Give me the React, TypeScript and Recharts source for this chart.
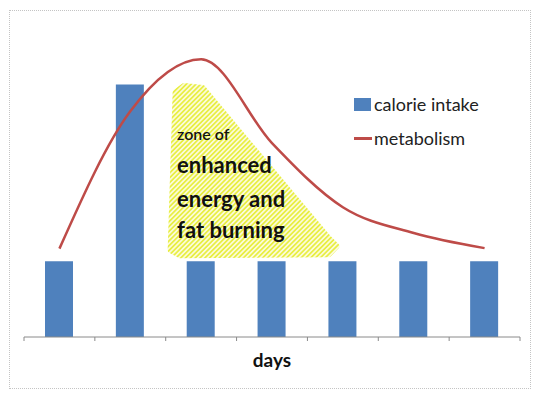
import { ComposedChart, Bar, Line, XAxis, YAxis, Legend, ReferenceArea } from 'recharts';

const days = ['Day 1', 'Day 2', 'Day 3', 'Day 4', 'Day 5', 'Day 6', 'Day 7'];
const calorieIntake = [1.5, 5, 1.5, 1.5, 1.5, 1.5, 1.5];
const metabolism = [1.75, 4.47, 5.5, 3.84, 2.57, 2.06, 1.76];
const yTicks = [0, 1, 2, 3, 4, 5, 6];
const xTicks = [0, 1, 2, 3, 4, 5, 6, 7];

// outline of the "zone" annotation, in [day index, value] units
const zoneOutline = [
    [2.14, 4.85], [2.26, 4.97], [2.52, 4.93], [4.3, 1.95], [4.41, 1.8],
    [4.3, 1.64], [2.2, 1.62], [2.07, 1.72],
];
const zoneLines = ['zone of', 'enhanced', 'energy and', 'fat burning'];
const zoneLineValues = [3.9, 3.25, 2.58, 1.96];

const data = days.map((d, i) => ({
    name: d,
    x: i + 0.5,
    intake: calorieIntake[i],
    metabolism: metabolism[i],
}));

const FONT = 'Lato, "Open Sans", sans-serif';

const ZoneShape = (props: any) => {
    const { x, y, width, height } = props;
    const px = (c: number) => x + (c / 7) * width;
    const py = (v: number) => y + ((6 - v) / 6) * height;
    const pts = zoneOutline.map(([c, v]) => `${px(c)},${py(v)}`).join(' ');
    return (
        <g>
            <defs>
                <pattern id="hatch" patternUnits="userSpaceOnUse" width="3.4" height="3.4" patternTransform="rotate(45)">
                    <rect width="3.4" height="3.4" fill="#fbfbd9" />
                    <rect width="1.7" height="3.4" fill="#e8ee44" />
                </pattern>
            </defs>
            <polygon points={pts} fill="url(#hatch)" stroke="url(#hatch)" strokeWidth={6} strokeLinejoin="round" />
            {zoneLines.map((t, i) => (
                <text
                    key={t}
                    x={px(2.16)}
                    y={py(zoneLineValues[i])}
                    fontFamily={FONT}
                    fontWeight={i === 0 ? 600 : 700}
                    fontSize={i === 0 ? 16 : 22}
                    fill="#111"
                >
                    {t}
                </text>
            ))}
        </g>
    );
};

const renderLegend = () => (
    <div style={{ fontFamily: FONT, fontSize: 18, color: '#222', lineHeight: '34px' }}>
        <div style={{ display: 'flex', alignItems: 'center' }}>
            <span style={{ display: 'inline-block', width: 17, height: 13, background: '#4f81bd', marginRight: 3 }} />
            calorie intake
        </div>
        <div style={{ display: 'flex', alignItems: 'center' }}>
            <span style={{ display: 'inline-block', width: 18, height: 3, background: '#be4b48', marginRight: 2 }} />
            metabolism
        </div>
    </div>
);

export default function App() {
    return (
        <div style={{ position: 'absolute', left: 0, top: 0, width: 546, height: 398, background: '#fff' }}>
            <div
                style={{
                    position: 'absolute',
                    left: 9,
                    top: 10,
                    width: 522,
                    height: 379,
                    border: '1px dotted #c4c4c4',
                    boxSizing: 'border-box',
                }}
            />
            <ComposedChart
                width={546}
                height={398}
                data={data}
                margin={{ top: 34, right: 26, left: 24, bottom: 31 }}
            >
                <XAxis
                    type="number"
                    dataKey="x"
                    domain={[0, 7]}
                    ticks={xTicks}
                    tickFormatter={() => ''}
                    tickSize={4}
                    stroke="#8a8a8a"
                    height={30}
                    label={{ value: 'days', position: 'insideBottom', offset: 0, fontFamily: FONT, fontSize: 19, fontWeight: 700, fill: '#111' }}
                />
                <YAxis
                    domain={[0, 6]}
                    ticks={yTicks}
                    tickFormatter={() => ''}
                    tickSize={4}
                    width={0}
                    stroke="#8a8a8a"
                />
                <ReferenceArea x1={0} x2={7} y1={0} y2={6} shape={ZoneShape} />
                <Legend
                    content={renderLegend}
                    layout="horizontal"
                    align="center"
                    verticalAlign="middle"
                    wrapperStyle={{ left: 354, top: 87, width: 'auto' }}
                />
                <Bar dataKey="intake" name="calorie intake" fill="#4f81bd" barSize={28} isAnimationActive={false} />
                <Line
                    type="monotone"
                    dataKey="metabolism"
                    name="metabolism"
                    stroke="#be4b48"
                    strokeWidth={2.5}
                    dot={false}
                    isAnimationActive={false}
                />
            </ComposedChart>
        </div>
    );
}
